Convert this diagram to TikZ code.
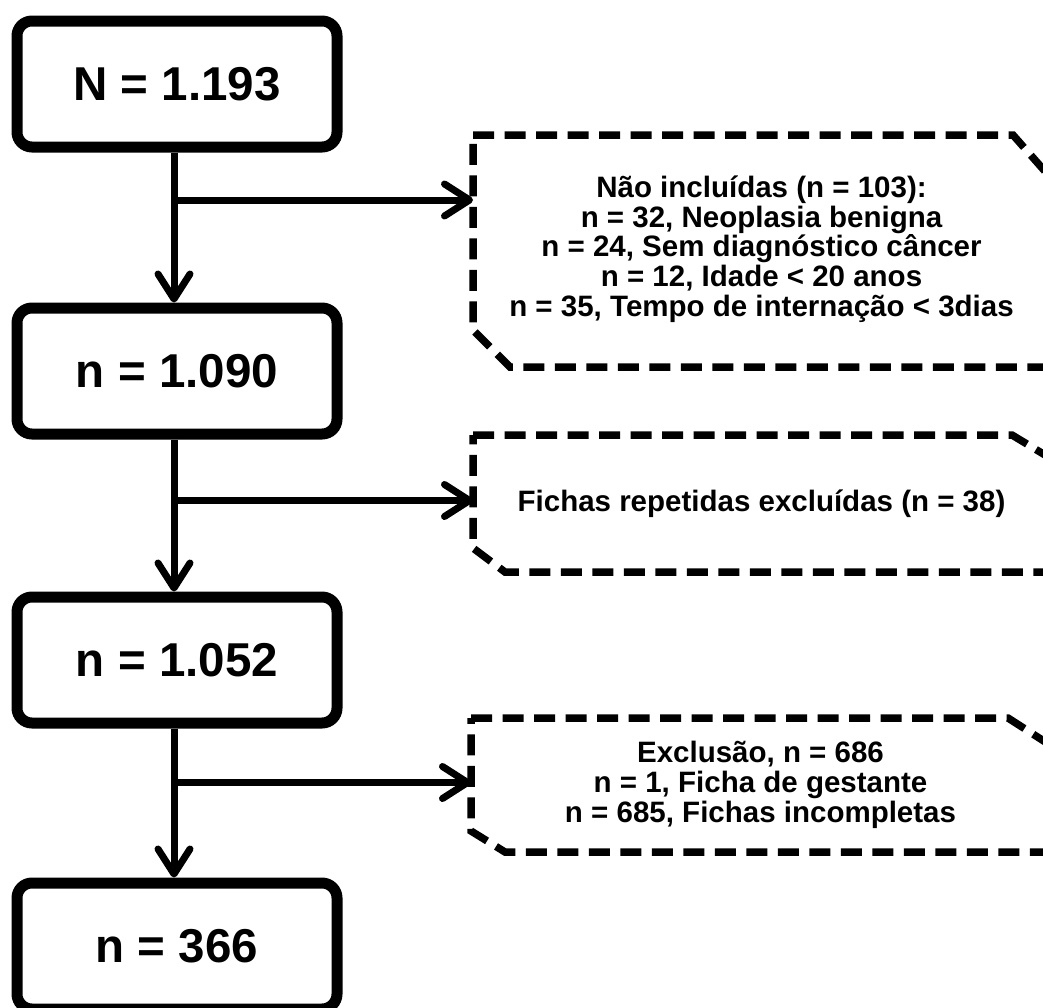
\documentclass[tikz,border=0pt]{standalone}
\usepackage{fontspec}
\setmainfont{Liberation Sans}
\usetikzlibrary{arrows.meta}
\begin{document}
\begin{tikzpicture}[x=1pt,y=-1pt,
  mainbox/.style={draw, line width=11pt, rounded corners=15pt,
    minimum width=320pt, minimum height=126pt, inner sep=0pt,
    font=\fontsize{47.5pt}{50pt}\selectfont\bfseries},
  notebox/.style={inner sep=0pt, outer sep=0pt, align=center,
    font=\fontsize{29.5pt}{29.75pt}\selectfont\bfseries},
  dashbox/.style={line width=7.5pt, dash pattern=on 21pt off 10.5pt, line join=miter},
  flow/.style={line width=7pt},
  arr/.style={flow, -{Straight Barb[length=25pt,width=32pt,round]}}
]
\useasboundingbox (0,0) rectangle (1043,1007);

% main boxes
\node[mainbox] (b1) at (177,84)  {N = 1.193};
\node[mainbox] (b2) at (177,371) {n = 1.090};
\node[mainbox] (b3) at (177,660) {n = 1.052};
\node[mainbox] (b4) at (177,946) {n = 366};

% note boxes
\node[notebox, minimum width=577pt, minimum height=232pt] (d1) at (761.5,249)
  {Não incluídas (n = 103):\\
   n = 32, Neoplasia benigna\\
   n = 24, Sem diagnóstico câncer\\
   n = 12, Idade < 20 anos\\
   n = 35, Tempo de internação < 3dias};
\draw[dashbox] ([yshift=-2pt]d1.north west) -- ([xshift=-37pt,yshift=-2pt]d1.north east)
  -- ([yshift=-44pt]d1.north east) -- ([yshift=-2pt]d1.south east)
  -- ([xshift=37pt,yshift=-2pt]d1.south west) -- ([yshift=35pt]d1.south west) -- cycle;

\node[notebox, minimum width=577pt, minimum height=137pt] (d2) at (761.5,503.5)
  {Fichas repetidas excluídas (n = 38)};
\draw[dashbox] (d2.north west) -- ([xshift=-38pt]d2.north east)
  -- ([yshift=-23pt]d2.north east) -- (d2.south east)
  -- ([xshift=32pt]d2.south west) -- ([yshift=24pt]d2.south west) -- cycle;

\node[notebox, minimum width=579pt, minimum height=134pt] (d3) at (760.5,785)
  {Exclusão, n = 686\\
   n = 1, Ficha de gestante\\
   n = 685, Fichas incompletas};
\draw[dashbox] (d3.north west) -- ([xshift=-42pt]d3.north east)
  -- ([yshift=-27pt]d3.north east) -- (d3.south east)
  -- ([xshift=34pt]d3.south west) -- ([yshift=21pt]d3.south west) -- cycle;

% junctions
\coordinate (j1) at (174,200);
\coordinate (j2) at (174,500.5);
\coordinate (j3) at (174,782.5);

% connectors
\draw[arr] (b1.south -| j1) -- (b2.north -| j1);
\draw[arr] (b2.south -| j2) -- (b3.north -| j2);
\draw[arr] (b3.south -| j3) -- (b4.north -| j3);
\draw[arr] (j1) -- (j1 -| d1.west);
\draw[arr] (j2) -- (j2 -| d2.west);
\draw[arr] (j3) -- (j3 -| d3.west);
\end{tikzpicture}
\end{document}
